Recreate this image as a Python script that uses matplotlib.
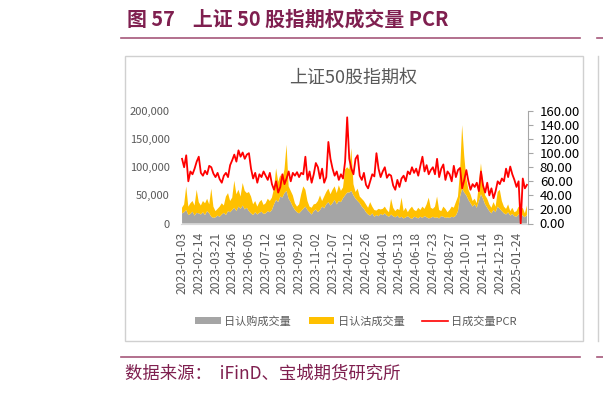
import numpy as np
import matplotlib
matplotlib.use('Agg')
import matplotlib.pyplot as plt
from matplotlib.patches import Rectangle, Patch
from matplotlib.lines import Line2D
from matplotlib.ticker import FuncFormatter

plt.rcParams['font.family'] = ['Noto Sans CJK SC', 'DejaVu Sans']

# one point every 3 trading days, 2023-01-03 .. 2025-02
tick_labels = ['2023-01-03', '2023-02-14', '2023-03-21', '2023-04-26', '2023-06-05',
               '2023-07-12', '2023-08-16', '2023-09-20', '2023-11-02', '2023-12-07',
               '2024-01-12', '2024-02-26', '2024-04-01', '2024-05-13', '2024-06-18',
               '2024-07-23', '2024-08-27', '2024-10-10', '2024-11-14', '2024-12-19',
               '2025-01-24']

# 日认购成交量 (thousand)
call_k = [18, 20, 24, 15, 17, 21, 14, 19,
          18, 16, 20, 15, 22, 18, 12, 10,
          11, 14, 12, 16, 19, 15, 22, 20,
          24, 28, 22, 30, 26, 32, 25, 28,
          22, 18, 15, 20, 16, 19, 21, 17,
          18, 22, 20, 24, 34, 42, 38, 48,
          46, 54, 58, 44, 38, 30, 24, 20,
          18, 22, 26, 30, 24, 20, 16, 22,
          25, 20, 24, 30, 27, 34, 38, 32,
          36, 42, 34, 40, 38, 45, 50, 55,
          55, 58, 50, 44, 40, 36, 30, 26,
          20, 16, 14, 18, 12, 15, 13, 17,
          15, 18, 14, 12, 16, 13, 11, 14,
          10, 12, 9, 11, 13, 10, 8, 12,
          11, 9, 12, 10, 13, 11, 9, 10,
          12, 10, 11, 9, 13, 12, 10, 11,
          10, 12, 11, 14, 22, 48, 62, 55,
          50, 42, 36, 30, 34, 28, 40, 52,
          44, 34, 28, 22, 18, 24, 20, 30,
          26, 22, 18, 16, 20, 14, 17, 13,
          12, 16, 18, 14, 11, 15]

# 日认沽成交量 (thousand)
put_k = [10, 14, 42, 15, 19, 19, 18, 41,
         20, 16, 20, 21, 22, 16, 50, 20,
         11, 12, 18, 20, 13, 33, 32, 20,
         22, 48, 30, 30, 22, 40, 33, 26,
         34, 30, 19, 20, 14, 19, 21, 16,
         18, 22, 20, 22, 28, 56, 36, 38,
         34, 42, 82, 22, 20, 20, 12, 10,
         16, 30, 40, 30, 16, 10, 12, 12,
         10, 20, 26, 10, 21, 22, 24, 20,
         24, 24, 20, 28, 20, 19, 46, 45,
         41, 76, 20, 12, 22, 12, 14, 14,
         14, 12, 24, 12, 12, 8, 13, 8,
         11, 12, 10, 8, 28, 15, 11, 12,
         14, 34, 13, 17, 7, 16, 22, 12,
         11, 19, 12, 20, 13, 23, 37, 18,
         14, 20, 37, 15, 9, 18, 16, 9,
         14, 18, 17, 24, 26, 45, 113, 65,
         30, 18, 16, 10, 10, 8, 30, 55,
         28, 16, 16, 12, 10, 14, 10, 26,
         34, 18, 12, 10, 14, 8, 11, 7,
         10, 14, 6, 14, 7, 17]

# 日成交量PCR
pcr = [92, 80, 97, 60, 74, 70, 78, 88,
       95, 72, 68, 75, 70, 82, 80, 71,
       66, 72, 63, 58, 68, 72, 66, 83,
       90, 98, 88, 104, 95, 101, 92, 98,
       100, 78, 64, 72, 58, 70, 66, 74,
       68, 62, 72, 56, 48, 60, 44, 52,
       70, 56, 64, 74, 60, 72, 68, 73,
       66, 72, 70, 95, 62, 74, 58, 70,
       86, 80, 64, 78, 58, 66, 116, 92,
       78, 68, 74, 62, 70, 64, 88, 151,
       92, 78, 70, 92, 97, 68, 62, 72,
       55, 50, 60, 70, 67, 100, 78, 66,
       74, 80, 65, 70, 68, 54, 48, 62,
       52, 64, 68, 60, 74, 70, 80, 72,
       78, 68, 82, 95, 74, 83, 70, 76,
       80, 70, 92, 66, 78, 84, 62, 74,
       70, 60, 82, 66, 76, 79, 50, 62,
       76, 60, 48, 56, 52, 58, 46, 74,
       54, 44, 58, 40, 50, 36, 46, 60,
       56, 64, 60, 78, 66, 81, 70, 62,
       52, 60, 0, 64, 50, 55]

call = np.array(call_k) * 1000
put = np.array(put_k) * 1000
x = np.arange(len(pcr))
tick_pos = np.arange(len(tick_labels)) * 8

W, H = 603, 394
fig = plt.figure(figsize=(W / 100, H / 100), dpi=100)

def fx(px):
    return px / W

def fy(py):
    return 1 - py / H

title_col = '#7F1F4F'
line_col = '#A5577A'
grey_txt = '#595959'

# page title and rules
fig.text(fx(127), fy(19), '图 57    上证 50 股指期权成交量 PCR', fontsize=14.3,
         fontweight='bold', color=title_col, ha='left', va='center')
fig.add_artist(Line2D([fx(121), fx(580)], [fy(38.3), fy(38.3)], color=line_col, lw=1.2))
fig.add_artist(Line2D([fx(597), fx(603)], [fy(38.3), fy(38.3)], color=line_col, lw=1.2))
fig.add_artist(Line2D([fx(121), fx(580)], [fy(356.7), fy(356.7)], color=line_col, lw=1.2))
fig.add_artist(Line2D([fx(597), fx(603)], [fy(356.7), fy(356.7)], color=line_col, lw=1.2))
fig.text(fx(125), fy(374), '数据来源：  iFinD、宝城期货研究所', fontsize=12.5,
         color=title_col, ha='left', va='center')

# chart frame
fig.add_artist(Rectangle((fx(125), fy(341)), fx(583) - fx(125), fy(55.7) - fy(341),
                         fill=False, edgecolor='#D0D0D0', lw=1, transform=fig.transFigure))
fig.add_artist(Line2D([fx(597.5), fx(597.5)], [fy(55.7), fy(341)], color='#D0D0D0', lw=1))
fig.text(fx(353), fy(78), '上证50股指期权', fontsize=13, color=grey_txt,
         ha='center', va='center')

ax = fig.add_axes([fx(181), fy(223.5), fx(528) - fx(181), fy(111) - fy(223.5)])
ax.stackplot(x, call, put, colors=['#A5A5A5', '#FFC000'], lw=0)
ax.set_xlim(-0.5, len(pcr) - 0.5)
ax.set_ylim(0, 200000)
ax.set_yticks(np.arange(0, 200001, 50000))
ax.yaxis.set_major_formatter(FuncFormatter(lambda v, p: f'{int(v):,}'))
ax.tick_params(axis='y', length=0, pad=8, labelsize=8, labelcolor=grey_txt)
ax.set_xticks(tick_pos)
ax.set_xticklabels(tick_labels, rotation=90)
ax.tick_params(axis='x', length=0, pad=6, labelsize=8.7, labelcolor=grey_txt)
for s in ['top', 'left', 'right']:
    ax.spines[s].set_visible(False)
ax.spines['bottom'].set_color('#D9D9D9')

ax2 = ax.twinx()
ax2.plot(x, pcr, color='#FF0000', lw=1.3)
ax2.set_ylim(0, 160)
ax2.set_yticks(np.arange(0, 161, 20))
ax2.yaxis.set_major_formatter(FuncFormatter(lambda v, p: f'{v:.2f}'))
ax2.tick_params(axis='y', length=3.5, width=0.8, color='#A6A6A6', pad=5,
                labelsize=9.5, labelcolor='#000000')
for s in ['top', 'left', 'bottom']:
    ax2.spines[s].set_visible(False)
ax2.spines['right'].set_color('#A6A6A6')
ax2.spines['right'].set_linewidth(0.8)

handles = [Patch(facecolor='#A5A5A5', edgecolor='none'),
           Patch(facecolor='#FFC000', edgecolor='none'),
           Line2D([], [], color='#FF0000', lw=1.2)]
fig.legend(handles, ['日认购成交量', '日认沽成交量', '日成交量PCR'], loc='center',
           bbox_to_anchor=(fx(356), fy(321)), ncol=3, frameon=False, fontsize=8,
           labelcolor=grey_txt, handlelength=2.3, handleheight=0.6,
           handletextpad=0.3, columnspacing=1.6)

fig.savefig('out.png', dpi=100)
